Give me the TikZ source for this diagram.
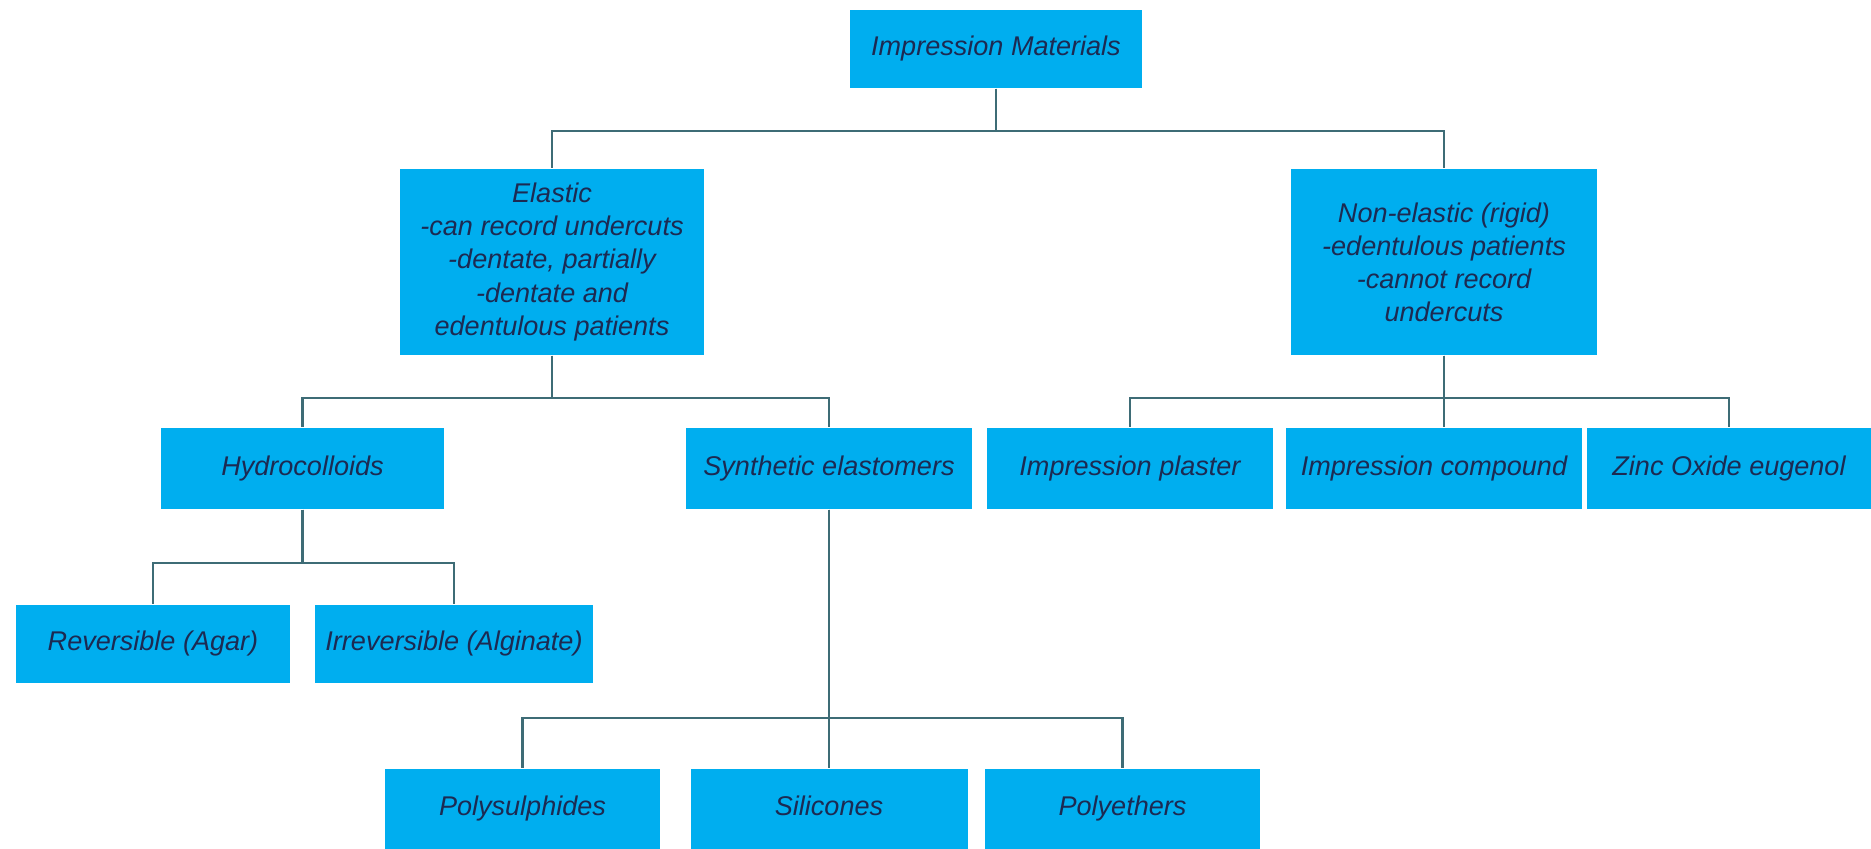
\documentclass[tikz,border=0pt]{standalone}
\usepackage{fontspec}
\setmainfont{Liberation Sans}
\definecolor{boxblue}{RGB}{0,174,239}
\definecolor{linkgray}{RGB}{62,108,118}
\definecolor{labelnavy}{RGB}{28,42,82}
\tikzset{
  matbox/.style={rectangle, fill=boxblue, text=labelnavy, inner sep=0pt, align=center,
    font=\itshape\fontsize{7.7}{9.4}\selectfont},
  onerow/.style={matbox, text height=1.95mm, text depth=0.55mm},
  link/.style={linkgray, line width=0.6pt}
}
\begin{document}
\begin{tikzpicture}[x=0.1mm, y=-0.1mm]
  \useasboundingbox (0,0) rectangle (1871,849);
  % top
  \node[onerow, minimum width=29.2mm, minimum height=7.8mm] (top) at (996,49) {Impression Materials};

  % elastic / non-elastic
  \node[matbox, minimum width=30.4mm, minimum height=18.6mm] (elastic) at (552,262)
    {Elastic\\-can record undercuts\\-dentate, partially\\-dentate and\\edentulous patients};
  \node[matbox, minimum width=30.6mm, minimum height=18.6mm] (rigid) at (1444,262)
    {Non-elastic (rigid)\\-edentulous patients\\-cannot record\\undercuts};

  % third row
  \node[onerow, minimum width=28.3mm, minimum height=8.1mm] (hydro) at (302.5,468.5) {Hydrocolloids};
  \node[onerow, minimum width=28.6mm, minimum height=8.1mm] (synth) at (829,468.5) {Synthetic elastomers};
  \node[onerow, minimum width=28.6mm, minimum height=8.1mm] (plaster) at (1130,468.5) {Impression plaster};
  \node[onerow, minimum width=29.6mm, minimum height=8.1mm] (compound) at (1434,468.5) {Impression compound};
  \node[onerow, minimum width=28.4mm, minimum height=8.1mm] (zoe) at (1729,468.5) {Zinc Oxide eugenol};

  % hydrocolloids
  \node[onerow, minimum width=27.4mm, minimum height=7.8mm] (agar) at (153,644) {Reversible (Agar)};
  \node[onerow, minimum width=27.8mm, minimum height=7.8mm] (alginate) at (454,644) {Irreversible (Alginate)};

  % elastomers
  \node[onerow, minimum width=27.5mm, minimum height=8.0mm] (polysul) at (522.5,809) {Polysulphides};
  \node[onerow, minimum width=27.7mm, minimum height=8.0mm] (silic) at (829,809) {Silicones};
  \node[onerow, minimum width=27.5mm, minimum height=8.0mm] (polyeth) at (1122.5,809) {Polyethers};

  \draw[link] (top.south) -- ++(0,42) -| (elastic.north);
  \draw[link] (top.south) -- ++(0,42) -| (rigid.north);

  \draw[link] (elastic.south) -- ++(0,42) -| (hydro.north);
  \draw[link] (elastic.south) -- ++(0,42) -| (synth.north);

  \draw[link] (rigid.south) -- ++(0,42) -| (plaster.north);
  \draw[link] (rigid.south) -- (rigid.south |- compound.north);
  \draw[link] (rigid.south) -- ++(0,42) -| (zoe.north);

  \draw[link] (hydro.south) -- ++(0,53) -| (agar.north);
  \draw[link] (hydro.south) -- ++(0,53) -| (alginate.north);

  \draw[link] (synth.south) -- ++(0,208) -| (polysul.north);
  \draw[link] (synth.south) -- (silic.north);
  \draw[link] (synth.south) -- ++(0,208) -| (polyeth.north);
\end{tikzpicture}
\end{document}
